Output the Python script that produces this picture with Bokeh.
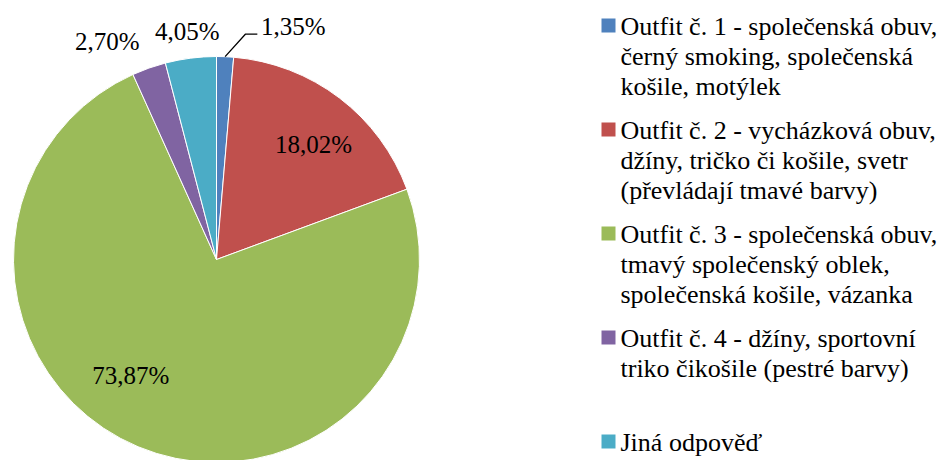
import numpy as np
from bokeh.plotting import figure
from bokeh.models import Range1d, ColumnDataSource
from bokeh.core.properties import value
from bokeh.embed import file_html
from bokeh.resources import INLINE

# ---- data ----
categories = [
    "Outfit č. 1 - společenská obuv,\nčerný smoking, společenská\nkošile, motýlek",
    "Outfit č. 2 - vycházková obuv,\ndžíny, tričko či košile, svetr\n(převládají tmavé barvy)",
    "Outfit č. 3 - společenská obuv,\ntmavý společenský oblek,\nspolečenská košile, vázanka",
    "Outfit č. 4 - džíny, sportovní\ntriko čikošile (pestré barvy)",
    "Jiná odpověď",
]
shares = [1.35, 18.02, 73.87, 2.70, 4.05]
colors = ["#4F81BD", "#C0504D", "#9BBB59", "#8064A2", "#4BACC6"]

# ---- layout (screen-pixel based) ----
W, H = 950, 460
FONT = value("Liberation Serif")


def sy(y):
    return 460 - y


cx, cy, R = 216, sy(259), 203
# label placement: (angle offset deg, radius factor)
label_layout = [(15.8, 1.21), (3.0, 0.74), (13.8, 0.71), (-7.2, 1.2), (0.0, 1.13)]

p = figure(width=W, height=H, output_backend="svg", toolbar_location=None,
           x_range=Range1d(0, W), y_range=Range1d(sy(H), sy(0)),
           min_border=0)
p.axis.visible = False
p.grid.visible = False
p.outline_line_color = None
p.background_fill_color = "white"

fr = np.array(shares) / np.sum(shares)
cum = np.concatenate([[0], np.cumsum(fr)])
start = np.pi / 2 - 2 * np.pi * cum[:-1]
end = np.pi / 2 - 2 * np.pi * cum[1:]

src = ColumnDataSource(dict(start=start, end=end, color=colors))
p.wedge(x=cx, y=cy, radius=R, start_angle="start", end_angle="end",
        direction="clock", fill_color="color", line_color="white",
        line_width=1, source=src)

# data labels
lx, ly, lt = [], [], []
mids = 360 * (cum[:-1] + fr / 2)
for i, v in enumerate(shares):
    off, rf = label_layout[i]
    th = np.radians(mids[i] + off)
    lx.append(cx + rf * R * np.sin(th))
    ly.append(cy + rf * R * np.cos(th))
    lt.append(f"{v:.2f}".replace(".", ",") + "%")
p.text(x=lx, y=ly, text=lt, text_align="center", text_baseline="middle",
       text_font=FONT, text_font_size="25px", text_color="black")

# leader line for the first (small) slice
th0 = np.radians(mids[0])
ax0, ay0 = cx + R * np.sin(th0), cy + R * np.cos(th0)
p.line(x=[ax0, lx[0] - 48, lx[0] - 36], y=[ay0, ly[0] - 8, ly[0] - 8],
       line_color="black", line_width=1.3)

# legend
sq_x, tx, y0, step, lh = 608, 620, 26, 104, 30
txs, tys, tts = [], [], []
for i, lab in enumerate(categories):
    yy = y0 + i * step
    p.scatter(x=[sq_x], y=[sy(yy - 1)], marker="square", size=14,
              fill_color=colors[i], line_color=None)
    for j, line in enumerate(lab.split("\n")):
        txs.append(tx)
        tys.append(sy(yy + j * lh))
        tts.append(line)
p.text(x=txs, y=tys, text=tts, text_align="left", text_baseline="middle",
       text_font=FONT, text_font_size="26px", text_color="black")

open("out.html", "w").write(file_html(p, INLINE))
